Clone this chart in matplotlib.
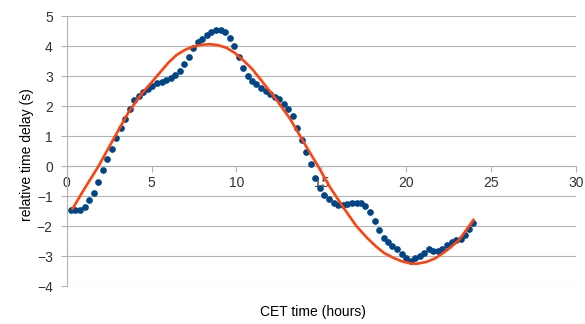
import matplotlib.pyplot as plt

plt.rcParams['font.family'] = ['Liberation Sans', 'DejaVu Sans']

# measured delay, one point roughly every quarter hour
hours = [0.24, 0.49, 0.76, 1.06, 1.31, 1.59, 1.86, 2.12, 2.37, 2.64,
         2.91, 3.18, 3.45, 3.70, 3.98, 4.25, 4.50, 4.78, 5.04, 5.30,
         5.59, 5.84, 6.12, 6.39, 6.65, 6.92, 7.20, 7.45, 7.73, 7.98,
         8.25, 8.51, 8.78, 9.06, 9.31, 9.59, 9.86, 10.12, 10.37, 10.65,
         10.92, 11.18, 11.45, 11.73, 12.00, 12.27, 12.53, 12.80, 13.06, 13.33,
         13.59, 13.86, 14.12, 14.39, 14.62, 14.90, 15.18, 15.45, 15.73, 16.00,
         16.25, 16.53, 16.80, 17.08, 17.35, 17.60, 17.86, 18.14, 18.39, 18.67,
         18.94, 19.19, 19.47, 19.75, 20.00, 20.27, 20.53, 20.80, 21.06, 21.33,
         21.59, 21.86, 22.12, 22.39, 22.67, 22.94, 23.20, 23.47, 23.72, 23.96]
delay = [-1.47, -1.47, -1.47, -1.37, -1.12, -0.90, -0.52, -0.12, 0.23, 0.56,
         0.93, 1.26, 1.58, 1.91, 2.19, 2.33, 2.48, 2.58, 2.68, 2.76,
         2.80, 2.86, 2.94, 3.03, 3.18, 3.40, 3.64, 3.92, 4.13, 4.25,
         4.38, 4.48, 4.53, 4.53, 4.48, 4.27, 4.00, 3.63, 3.28, 2.99,
         2.83, 2.74, 2.60, 2.50, 2.41, 2.31, 2.22, 2.06, 1.90, 1.66,
         1.27, 0.88, 0.48, 0.07, -0.40, -0.74, -0.96, -1.10, -1.24, -1.30,
         -1.30, -1.27, -1.24, -1.24, -1.22, -1.32, -1.53, -1.84, -2.13, -2.40,
         -2.52, -2.66, -2.78, -2.93, -3.06, -3.17, -3.06, -2.99, -2.90, -2.78,
         -2.82, -2.84, -2.77, -2.62, -2.53, -2.48, -2.42, -2.31, -2.11, -1.91]

# fitted curve
fit_hours = [0.35, 1.0, 1.88, 2.66, 3.65, 4.43, 5.02, 5.5, 6.0, 6.47,
             7.0, 7.45, 7.95, 8.43, 8.9, 9.41, 9.9, 10.39, 10.9, 11.37,
             12.3, 13.14, 14.12, 14.8, 15.49, 16.27, 17.06, 17.7, 18.24, 18.7,
             19.21, 19.7, 20.19, 20.6, 21.18, 21.7, 22.15, 22.6, 23.13, 23.96]
fit_delay = [-1.42, -0.80, 0.0, 0.80, 1.80, 2.42, 2.80, 3.12, 3.45, 3.70,
             3.88, 3.98, 4.04, 4.06, 4.03, 3.94, 3.77, 3.53, 3.25, 2.92,
             2.25, 1.59, 0.64, 0.0, -0.69, -1.36, -2.0, -2.40, -2.69, -2.90,
             -3.05, -3.17, -3.24, -3.26, -3.20, -3.08, -2.91, -2.72, -2.45, -1.80]

fig = plt.figure(figsize=(5.85, 3.24), dpi=100)
ax = fig.add_axes([66.7 / 585, 1 - 286 / 324, (576 - 66.7) / 585, 270 / 324])

grey = '#b3b3b3'
ax.plot(hours, delay, linestyle='none', marker='o', markersize=3.8,
        color='#004586', zorder=3)
ax.plot(fit_hours, fit_delay, color='#ff420e', linewidth=1.9, zorder=4)

ax.set_xlim(0, 30)
ax.set_ylim(-4, 5)
ax.set_xticks(range(0, 31, 5))
ax.set_yticks(range(-4, 6))
ax.grid(True, axis='y', color=grey, linewidth=0.8)
ax.set_axisbelow(True)

for side in ['top', 'right']:
    ax.spines[side].set_visible(False)
ax.spines['left'].set_color(grey)
ax.spines['bottom'].set_color(grey)
ax.spines['bottom'].set_position(('data', 0))
ax.tick_params(axis='both', colors=grey, labelcolor='#333333', labelsize=10,
               length=4, width=0.8)
ax.tick_params(axis='y', pad=6)

fig.text(313 / 585, 1 - 312 / 324, 'CET time (hours)', ha='center',
         va='center', fontsize=10)
fig.text(27 / 585, 1 - 155 / 324, 'relative time delay (s)', ha='center',
         va='center', rotation=90, fontsize=10)

fig.savefig('out.png', dpi=100)
